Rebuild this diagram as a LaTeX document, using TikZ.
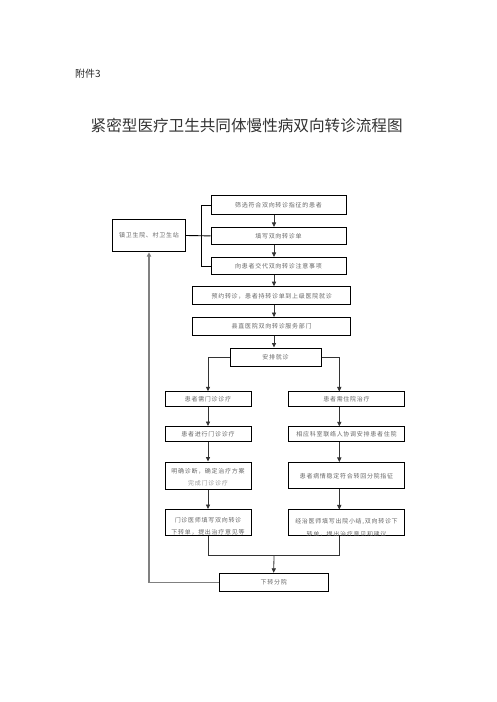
\documentclass[tikz,border=0pt]{standalone}
\usepackage{fontspec}
\setmainfont{Noto Sans CJK SC}
\newfontfamily\boxfont[LetterSpace=12]{Noto Sans CJK SC}
\usetikzlibrary{arrows.meta}
\begin{document}
\begin{tikzpicture}[x=1pt,y=-1pt,
  box/.style={draw=black,line width=1pt,inner sep=0pt,fill=none},
  txt/.style={inner sep=0pt,align=center,text=black!60,font=\boxfont\fontsize{6}{12.4}\selectfont},
  conn/.style={draw=black!80,line width=0.8pt},
  arr/.style={conn,-{Triangle[length=4.5pt,width=4.2pt]}},
  back/.style={draw=black!50,line width=1.3pt,-{Triangle[length=4.5pt,width=4.2pt]}}]
\useasboundingbox (0,0) rectangle (496,702);
\node[anchor=west,inner sep=0pt,font=\fontsize{10}{12}\selectfont,text=black!85] (hdr) at (75,74) {附件3};
\node[inner sep=0pt,font=\fontsize{15.6}{18}\selectfont,text=black!80] (title) at (246.7,125.7) {紧密型医疗卫生共同体慢性病双向转诊流程图};
% top part
\node[box,minimum width=73.4pt,minimum height=32.4pt] (L0) at (149,235.5) {};
\node[txt] at (L0.center) {镇卫生院、村卫生站};
\node[box,minimum width=135pt,minimum height=18.7pt] (B1) at (278.5,205.3) {};
\node[txt] at (B1.center) {筛选符合双向转诊指征的患者};
\node[box,minimum width=135pt,minimum height=17pt] (B2) at (278.5,235.9) {};
\node[txt] at (B2.center) {填写双向转诊单};
\node[box,minimum width=135pt,minimum height=17.5pt] (B3) at (278.5,266.2) {};
\node[txt] at (B3.center) {向患者交代双向转诊注意事项};
\node[box,minimum width=158pt,minimum height=18.3pt] (B4) at (271.7,295.8) {};
\node[txt] at (B4.center) {预约转诊，患者持转诊单到上级医院就诊};
\node[box,minimum width=158pt,minimum height=17.5pt] (B5) at (271.7,326.3) {};
\node[txt] at (B5.center) {县直医院双向转诊服务部门};
\node[box,minimum width=91pt,minimum height=18pt] (B6) at (275.5,357) {};
\node[txt] at (B6.center) {安排就诊};
% left column
\node[box,minimum width=86pt,minimum height=14.5pt] (L1) at (208,399) {};
\node[txt] at (L1.center) {患者需门诊诊疗};
\node[box,minimum width=86pt,minimum height=15pt] (L2) at (208,434) {};
\node[txt] at (L2.center) {患者进行门诊诊疗};
\node[box,minimum width=86pt,minimum height=27pt] (L3) at (208,475.5) {};
\begin{scope}
\clip (L3.north west) rectangle (L3.south east);
\node[txt] at ([yshift=-1.5pt]L3.center) {明确诊断，确定治疗方案\\{\color{black!40}完成门诊诊疗}};
\end{scope}
\node[box,minimum width=86pt,minimum height=26pt] (L4) at (208,522.5) {};
\begin{scope}
\clip (L4.north west) rectangle (L4.south east);
\node[txt] at ([yshift=-4pt]L4.center) {门诊医师填写双向转诊\\下转单，提出治疗意见等};
\end{scope}
% right column
\node[box,minimum width=116pt,minimum height=14.5pt] (R1) at (346.5,399.2) {};
\node[txt] at (R1.center) {患者需住院治疗};
\node[box,minimum width=116pt,minimum height=14.5pt] (R2) at (346.5,434) {};
\node[txt] at (R2.center) {相应科室联络人协调安排患者住院};
\node[box,minimum width=116pt,minimum height=26.5pt] (R3) at (346.5,475.7) {};
\node[txt] at (R3.center) {患者病情稳定符合转回分院指征};
\node[box,minimum width=116pt,minimum height=25.5pt] (R4) at (346.5,522.7) {};
\begin{scope}
\clip (R4.north west) rectangle (R4.south east);
\node[txt] at ([yshift=-5pt]R4.center) {经治医师填写出院小结,双向转诊下\\转单，提出治疗意见和建议};
\end{scope}
% bottom
\node[box,minimum width=109.3pt,minimum height=18.4pt] (D) at (273.7,582.5) {};
\node[txt] at (D.center) {下转分院};
% helper coordinates
\coordinate (ax) at (274,0);
\coordinate (bx) at (201,0);
\coordinate (rx) at (339.3,0);
\coordinate (mj) at (274,555);
% bracket
\draw[line width=0.9pt] (L0.east) -- (B2.west);
\draw[line width=0.9pt] (B1.west) -- (B1.west -| bx) -- (B3.west -| bx) -- (B3.west);
% main axis arrows
\draw[arr] (B1.south -| ax) -- (B2.north -| ax);
\draw[arr] (B2.south -| ax) -- (B3.north -| ax);
\draw[arr] (B3.south -| ax) -- (B4.north -| ax);
\draw[arr] (B4.south -| ax) -- (B5.north -| ax);
\draw[arr] (B5.south -| ax) -- (B6.north -| ax);
% split
\draw[arr] (B6.west) -| (L1.north);
\draw[arr] (B6.east) -| (R1.north -| rx);
% columns
\draw[arr] (L1.south) -- (L2.north);
\draw[arr] (L2.south) -- (L3.north);
\draw[arr] (L3.south) -- (L4.north);
\draw[arr] (R1.south -| rx) -- (R2.north -| rx);
\draw[arr] (R2.south -| rx) -- (R3.north -| rx);
\draw[arr] (R3.south -| rx) -- (R4.north -| rx);
% merge
\draw[conn] (L4.south) -- (L4.south |- mj) -- (mj -| rx) -- (R4.south -| rx);
\draw[arr] (mj) -- (D.north);
% feedback
\draw[back] (D.west) -| (L0.south);
\end{tikzpicture}
\end{document}
